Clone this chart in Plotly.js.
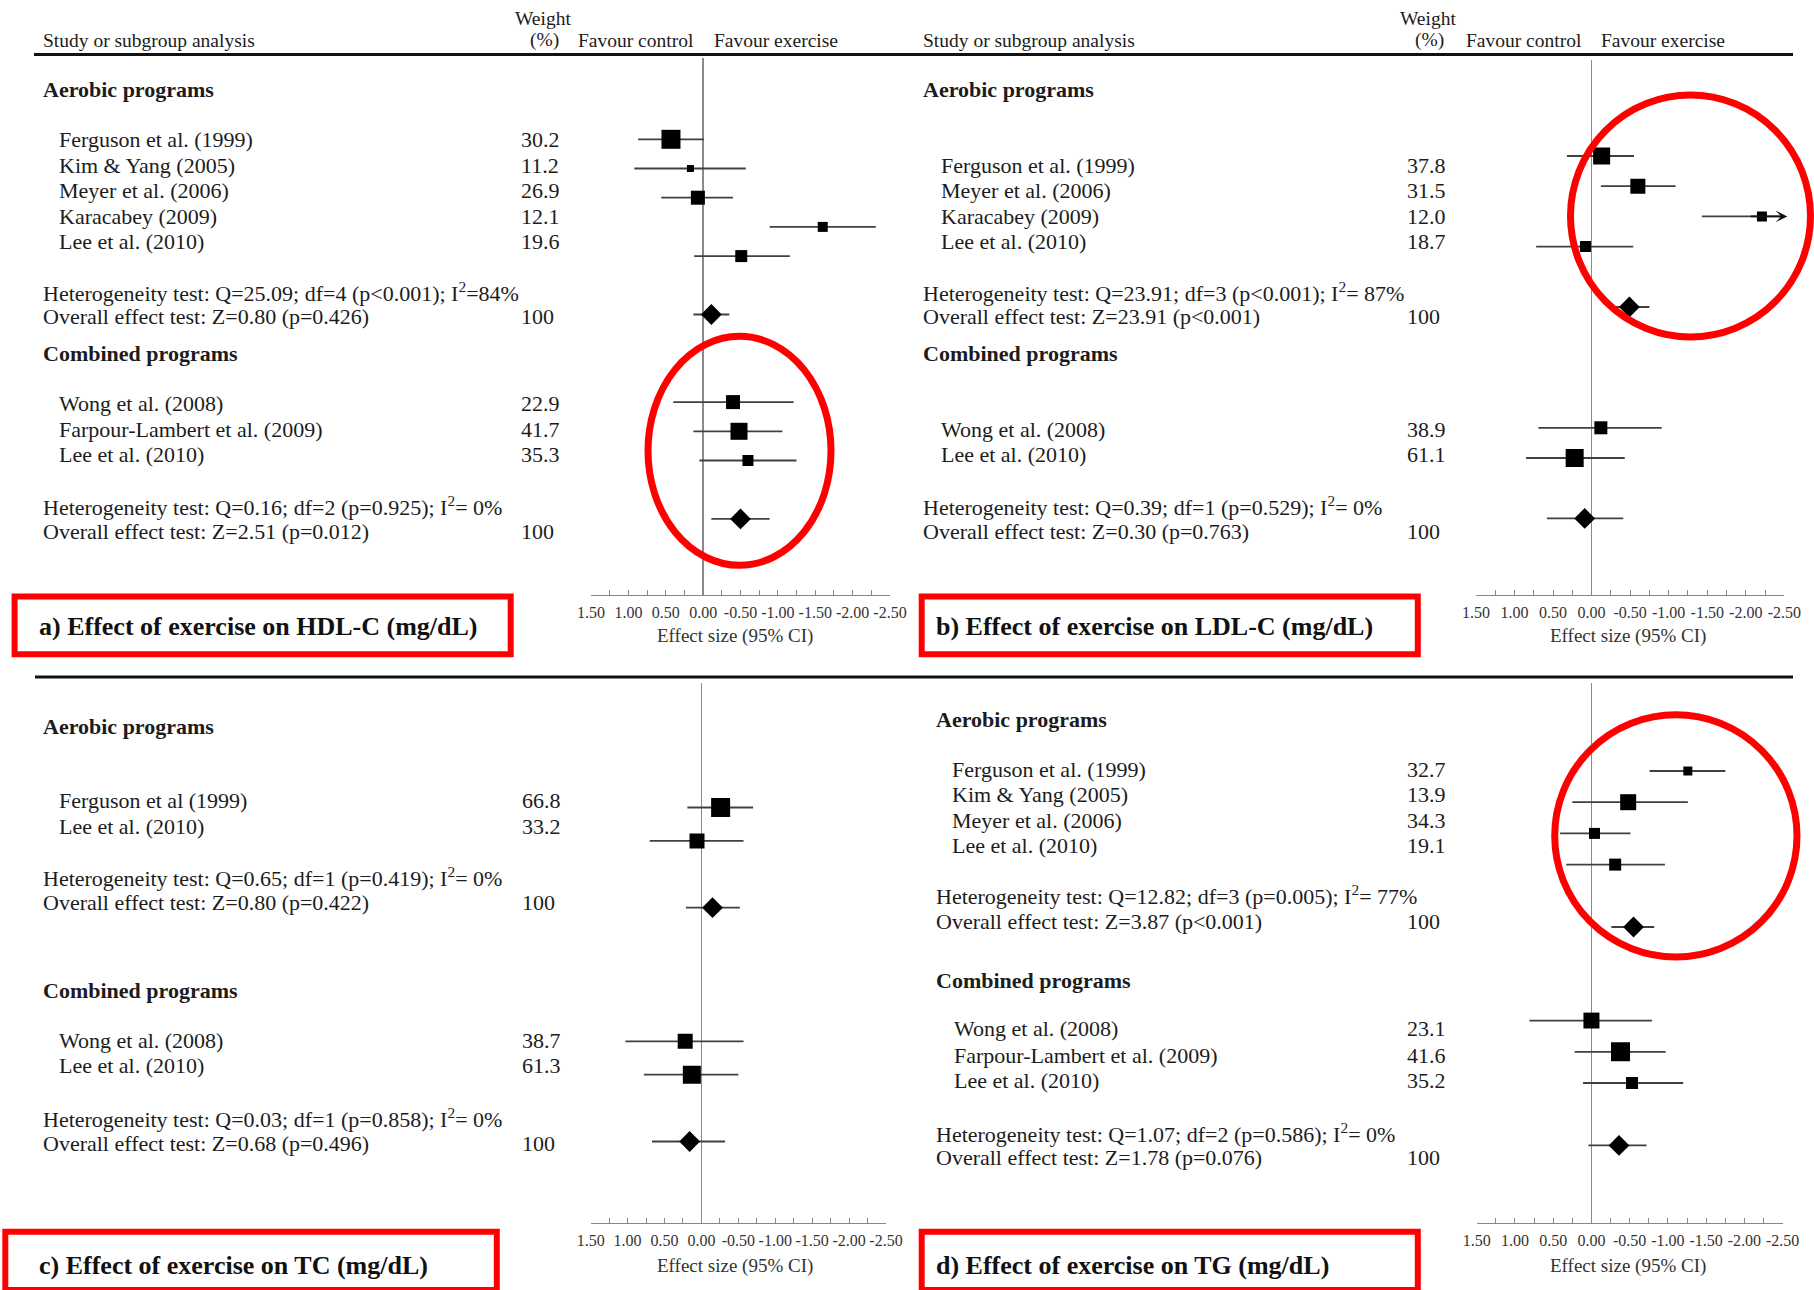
<!DOCTYPE html>
<html>
<head>
<meta charset="utf-8">
<script src="https://cdn.plot.ly/plotly-3.0.1.min.js"></script>
<style>html,body{margin:0;padding:0;background:#fff;}</style>
</head>
<body>
<div id="chart" style="width:1814px;height:1290px;"></div>
<script>
// ================= DATA =================
const tickValues = [1.5, 1.25, 1.0, 0.75, 0.5, 0.25, 0.0, -0.25, -0.5, -0.75, -1.0, -1.25, -1.5, -1.75, -2.0, -2.25, -2.5];
const tickLabels = ["1.50", "", "1.00", "", "0.50", "", "0.00", "", "-0.50", "", "-1.00", "", "-1.50", "", "-2.00", "", "-2.50"];
const axisTitleText = "Effect size (95% CI)";
const panelTitles = [
  "a) Effect of exercise on HDL-C (mg/dL)",
  "b) Effect of exercise on LDL-C (mg/dL)",
  "c) Effect of exercise on TC (mg/dL)",
  "d) Effect of exercise on TG (mg/dL)"
];
const groupNames = ["Aerobic programs", "Combined programs"];

// a) HDL-C
const hdlAerobicStudies = ["Ferguson et al. (1999)", "Kim & Yang (2005)", "Meyer et al. (2006)", "Karacabey (2009)", "Lee et al. (2010)"];
const hdlAerobicWeights = [30.2, 11.2, 26.9, 12.1, 19.6];
const hdlAerobicEffect = [0.43, 0.17, 0.07, -1.60, -0.51];
const hdlAerobicLower = [-0.01, -0.57, -0.40, -2.31, -1.16];
const hdlAerobicUpper = [0.87, 0.92, 0.56, -0.89, 0.12];
const hdlCombinedStudies = ["Wong et al. (2008)", "Farpour-Lambert et al. (2009)", "Lee et al. (2010)"];
const hdlCombinedWeights = [22.9, 41.7, 35.3];
const hdlCombinedEffect = [-0.40, -0.48, -0.60];
const hdlCombinedLower = [-1.21, -1.06, -1.25];
const hdlCombinedUpper = [0.40, 0.13, 0.05];
const hdlPooledEffect = [-0.11, -0.50];
const hdlPooledLower = [-0.35, -0.89];
const hdlPooledUpper = [0.13, -0.11];
const hdlHeterogeneity = ["Q=25.09; df=4 (p<0.001); I^2=84%", "Q=0.16; df=2 (p=0.925); I^2= 0%"];
const hdlOverall = ["Z=0.80 (p=0.426)", "Z=2.51 (p=0.012)"];

// b) LDL-C
const ldlAerobicStudies = ["Ferguson et al. (1999)", "Meyer et al. (2006)", "Karacabey (2009)", "Lee et al. (2010)"];
const ldlAerobicWeights = [37.8, 31.5, 12.0, 18.7];
const ldlAerobicEffect = [-0.13, -0.60, -2.21, 0.08];
const ldlAerobicLower = [-0.55, -1.09, -2.99, -0.54];
const ldlAerobicUpper = [0.32, -0.12, -1.43, 0.72];
const ldlCombinedStudies = ["Wong et al. (2008)", "Lee et al. (2010)"];
const ldlCombinedWeights = [38.9, 61.1];
const ldlCombinedEffect = [-0.12, 0.22];
const ldlCombinedLower = [-0.91, -0.43];
const ldlCombinedUpper = [0.69, 0.85];
const ldlPooledEffect = [-0.49, 0.09];
const ldlPooledLower = [-0.75, -0.41];
const ldlPooledUpper = [-0.23, 0.58];
const ldlHeterogeneity = ["Q=23.91; df=3 (p<0.001); I^2= 87%", "Q=0.39; df=1 (p=0.529); I^2= 0%"];
const ldlOverall = ["Z=23.91 (p<0.001)", "Z=0.30 (p=0.763)"];

// c) TC
const tcAerobicStudies = ["Ferguson et al (1999)", "Lee et al. (2010)"];
const tcAerobicWeights = [66.8, 33.2];
const tcAerobicEffect = [-0.26, 0.06];
const tcAerobicLower = [-0.70, -0.57];
const tcAerobicUpper = [0.19, 0.70];
const tcCombinedStudies = ["Wong et al. (2008)", "Lee et al. (2010)"];
const tcCombinedWeights = [38.7, 61.3];
const tcCombinedEffect = [0.22, 0.13];
const tcCombinedLower = [-0.57, -0.50];
const tcCombinedUpper = [1.03, 0.78];
const tcPooledEffect = [-0.15, 0.16];
const tcPooledLower = [-0.52, -0.32];
const tcPooledUpper = [0.21, 0.67];
const tcHeterogeneity = ["Q=0.65; df=1 (p=0.419); I^2= 0%", "Q=0.03; df=1 (p=0.858); I^2= 0%"];
const tcOverall = ["Z=0.80 (p=0.422)", "Z=0.68 (p=0.496)"];

// d) TG
const tgAerobicStudies = ["Ferguson et al. (1999)", "Kim & Yang (2005)", "Meyer et al. (2006)", "Lee et al. (2010)"];
const tgAerobicWeights = [32.7, 13.9, 34.3, 19.1];
const tgAerobicEffect = [-1.26, -0.48, -0.04, -0.31];
const tgAerobicLower = [-1.75, -1.26, -0.51, -0.96];
const tgAerobicUpper = [-0.76, 0.25, 0.41, 0.33];
const tgCombinedStudies = ["Wong et al. (2008)", "Farpour-Lambert et al. (2009)", "Lee et al. (2010)"];
const tgCombinedWeights = [23.1, 41.6, 35.2];
const tgCombinedEffect = [0.00, -0.38, -0.53];
const tgCombinedLower = [-0.79, -0.97, -1.20];
const tgCombinedUpper = [0.81, 0.22, 0.11];
const tgPooledEffect = [-0.55, -0.36];
const tgPooledLower = [-0.82, -0.72];
const tgPooledUpper = [-0.26, 0.04];
const tgHeterogeneity = ["Q=12.82; df=3 (p=0.005); I^2= 77%", "Q=1.07; df=2 (p=0.586); I^2= 0%"];
const tgOverall = ["Z=3.87 (p<0.001)", "Z=1.78 (p=0.076)"];

// ================= LAYOUT / STYLE =================
const W = 1814, H = 1290;
const FONT = '"Liberation Serif", "Times New Roman", Times, serif';
const INK = '#1c1c1c';

const panels = [
  { ax: '', xPx: [591, 890], yPx: [58, 595], row0: 139.3, pitch: 29.2,
    rowsA: [0, 1, 2, 3, 4], pooledA: 6, rowsC: [9, 10, 11], pooledC: 13,
    sizesA: [19, 7, 14, 10, 12], sizesC: [14, 17, 11],
    headX: 41.7, studyX: 57.9, studyXC: 57.9, weightX: 519.5,
    yA: 89.1, yStudiesA: [140, 165.5, 190.9, 216.4, 241.8], yHetA: 291.6, yOvA: 317,
    yC: 354, yStudiesC: [403.8, 429.2, 454.7], yHetC: 505.6, yOvC: 531.1,
    header: { studyX: 41.7, weightCX: 542.6, pctX: 528.7, favC: 577.3, favE: 712.7 },
    box: [14.6, 596.5, 510.7, 654.2], titleX: 38.2, titleY: 626, axisTitleX: 734.7, axisTitleY: 636.4,
    data: [hdlAerobicStudies, hdlAerobicWeights, hdlAerobicEffect, hdlAerobicLower, hdlAerobicUpper,
           hdlCombinedStudies, hdlCombinedWeights, hdlCombinedEffect, hdlCombinedLower, hdlCombinedUpper,
           hdlPooledEffect, hdlPooledLower, hdlPooledUpper, hdlHeterogeneity, hdlOverall] },
  { ax: '2', xPx: [1476, 1784.3], yPx: [60, 595], row0: 156, pitch: 30.2,
    rowsA: [0, 1, 2, 3], pooledA: 5, rowsC: [9, 10], pooledC: 12,
    sizesA: [17, 15, 10, 11], sizesC: [13, 18],
    headX: 922.1, studyX: 939.5, studyXC: 939.5, weightX: 1405.8,
    yA: 89.1, yStudiesA: [165.5, 190.9, 216.4, 241.8], yHetA: 291.6, yOvA: 317,
    yC: 354, yStudiesC: [429.2, 454.7], yHetC: 505.6, yOvC: 531.1,
    header: { studyX: 922.1, weightCX: 1427.7, pctX: 1413.9, favC: 1464.8, favE: 1600.1 },
    box: [921.7, 596.5, 1417.8, 654.2], titleX: 934.9, titleY: 626, axisTitleX: 1628, axisTitleY: 636.4,
    arrowRow: 2,
    data: [ldlAerobicStudies, ldlAerobicWeights, ldlAerobicEffect, ldlAerobicLower, ldlAerobicUpper,
           ldlCombinedStudies, ldlCombinedWeights, ldlCombinedEffect, ldlCombinedLower, ldlCombinedUpper,
           ldlPooledEffect, ldlPooledLower, ldlPooledUpper, ldlHeterogeneity, ldlOverall] },
  { ax: '3', xPx: [590.7, 886], yPx: [683, 1222.7], row0: 807.5, pitch: 33.4,
    rowsA: [0, 1], pooledA: 3, rowsC: [7, 8], pooledC: 10,
    sizesA: [19, 15], sizesC: [15, 18],
    headX: 41.7, studyX: 57.9, studyXC: 57.9, weightX: 520.6,
    yA: 726.6, yStudiesA: [800.6, 826.1], yHetA: 877, yOvA: 902.5,
    yC: 990.4, yStudiesC: [1040.1, 1065.6], yHetC: 1117.7, yOvC: 1143.1,
    header: null,
    box: [5.3, 1231.7, 496.8, 1290], titleX: 38.2, titleY: 1265.8, axisTitleX: 734.7, axisTitleY: 1266,
    data: [tcAerobicStudies, tcAerobicWeights, tcAerobicEffect, tcAerobicLower, tcAerobicUpper,
           tcCombinedStudies, tcCombinedWeights, tcCombinedEffect, tcCombinedLower, tcCombinedUpper,
           tcPooledEffect, tcPooledLower, tcPooledUpper, tcHeterogeneity, tcOverall] },
  { ax: '4', xPx: [1476.7, 1782.7], yPx: [683, 1222.7], row0: 771, pitch: 31.2,
    rowsA: [0, 1, 2, 3], pooledA: 5, rowsC: [8, 9, 10], pooledC: 12,
    sizesA: [9, 16, 11, 12], sizesC: [16, 19, 12],
    headX: 934.9, studyX: 951, studyXC: 953.4, weightX: 1405.8,
    yA: 719.7, yStudiesA: [769.4, 794.9, 820.3, 845.8], yHetA: 895.5, yOvA: 921,
    yC: 980, yStudiesC: [1028.6, 1055.2, 1080.6], yHetC: 1132.7, yOvC: 1157,
    header: null,
    box: [921.7, 1231.7, 1417.8, 1290], titleX: 934.9, titleY: 1265.8, axisTitleX: 1628, axisTitleY: 1266,
    data: [tgAerobicStudies, tgAerobicWeights, tgAerobicEffect, tgAerobicLower, tgAerobicUpper,
           tgCombinedStudies, tgCombinedWeights, tgCombinedEffect, tgCombinedLower, tgCombinedUpper,
           tgPooledEffect, tgPooledLower, tgPooledUpper, tgHeterogeneity, tgOverall] }
];

const ellipses = [
  [648, 336.3, 831, 565.3],
  [1570.5, 95, 1810.5, 337],
  [1554.7, 714.7, 1797, 957]
];

// ================= BUILD =================
function esc(s) {
  return s.replace(/&/g, '&amp;').replace(/</g, '&lt;').replace(/>/g, '&gt;').replace('I^2', 'I<sup>2</sup>');
}
function px2x(px) { return px / W; }
function py2y(py) { return 1 - py / H; }
function txt(px, py, text, size, opts) {
  opts = opts || {};
  return {
    xref: 'paper', yref: 'paper', x: px2x(px), y: py2y(py),
    xanchor: opts.anchor || 'left', yanchor: 'middle',
    text: text, showarrow: false, borderpad: 0,
    font: { family: FONT, size: size, color: opts.color || INK, weight: opts.bold ? 'bold' : 'normal' }
  };
}

const traces = [];
const annotations = [];
const shapes = [];
const layout = {
  width: W, height: H,
  margin: { l: 0, r: 0, t: 0, b: 0 },
  paper_bgcolor: '#ffffff', plot_bgcolor: 'rgba(0,0,0,0)',
  showlegend: false,
  font: { family: FONT, color: INK },
  annotations: annotations,
  shapes: shapes
};

const STUDY_SIZE = 22, HEAD_SIZE = 22, SMALL = 19.5;

panels.forEach(function (p) {
  const xa = 'x' + p.ax, ya = 'y' + p.ax;
  const xKey = 'xaxis' + p.ax, yKey = 'yaxis' + p.ax;
  const d = p.data;
  const [sA, wA, eA, loA, hiA, sC, wC, eC, loC, hiC, pE, pLo, pHi, het, ov] = d;

  layout[xKey] = {
    domain: [p.xPx[0] / W, p.xPx[1] / W],
    anchor: ya,
    range: [tickValues[0], tickValues[tickValues.length - 1]],
    tickmode: 'array', tickvals: tickValues, ticktext: tickLabels,
    ticks: 'inside', ticklen: 5, tickwidth: 1, tickcolor: '#888',
    showline: true, linecolor: '#888', linewidth: 1.2,
    showgrid: false,
    zeroline: true, zerolinecolor: '#8a8a8a', zerolinewidth: 1.6,
    tickfont: { family: FONT, size: 16, color: '#333' },
    ticklabelstandoff: 3,
    fixedrange: true
  };
  layout[yKey] = {
    domain: [py2y(p.yPx[1]), py2y(p.yPx[0])],
    anchor: xa,
    range: [(p.yPx[1] - p.row0) / p.pitch, (p.yPx[0] - p.row0) / p.pitch],
    visible: false, showgrid: false, zeroline: false, fixedrange: true
  };

  const errStyle = { type: 'data', symmetric: false, color: '#404040', thickness: 1.8, width: 0 };
  // study squares
  [[eA, loA, hiA, p.rowsA, p.sizesA], [eC, loC, hiC, p.rowsC, p.sizesC]].forEach(function (g) {
    const [e, lo, hi, rows, sizes] = g;
    traces.push({
      type: 'scatter', mode: 'markers', xaxis: xa, yaxis: ya,
      x: e, y: rows,
      marker: { symbol: 'square', color: '#000', opacity: 1, size: sizes, line: { width: 0 } },
      error_x: Object.assign({}, errStyle, {
        array: hi.map(function (v, i) { return v - e[i]; }),
        arrayminus: lo.map(function (v, i) { return e[i] - v; })
      }),
      hoverinfo: 'skip', cliponaxis: true
    });
  });
  // pooled diamonds
  traces.push({
    type: 'scatter', mode: 'markers', xaxis: xa, yaxis: ya,
    x: pE, y: [p.pooledA, p.pooledC],
    marker: { symbol: 'diamond', color: '#000', opacity: 1, size: 16, line: { width: 0 } },
    error_x: Object.assign({}, errStyle, {
      array: pHi.map(function (v, i) { return v - pE[i]; }),
      arrayminus: pLo.map(function (v, i) { return pE[i] - v; })
    }),
    hoverinfo: 'skip'
  });

  // arrow for CI running past the axis
  if (p.arrowRow !== undefined) {
    annotations.push({
      xref: 'paper', yref: ya, x: (p.xPx[1] + 3) / W, y: p.rowsA[p.arrowRow],
      ax: -38, ay: 0, showarrow: true, arrowhead: 3, arrowsize: 1.1, arrowwidth: 1.8,
      arrowcolor: '#111', text: ''
    });
  }

  // header row
  if (p.header) {
    const h = p.header;
    annotations.push(txt(h.studyX, 40.5, 'Study or subgroup analysis', SMALL));
    annotations.push(txt(h.weightCX, 18.5, 'Weight', SMALL, { anchor: 'center' }));
    annotations.push(txt(h.pctX, 40.5, '(%)', SMALL));
    annotations.push(txt(h.favC, 40.5, 'Favour control', SMALL));
    annotations.push(txt(h.favE, 40.5, 'Favour exercise', SMALL));
  }

  // group A text
  annotations.push(txt(p.headX, p.yA, groupNames[0], HEAD_SIZE, { bold: true }));
  sA.forEach(function (s, i) {
    annotations.push(txt(p.studyX, p.yStudiesA[i], esc(s), STUDY_SIZE));
    annotations.push(txt(p.weightX, p.yStudiesA[i], wA[i].toFixed(1), STUDY_SIZE));
  });
  annotations.push(txt(p.headX, p.yHetA, esc('Heterogeneity test: ' + het[0]), STUDY_SIZE));
  annotations.push(txt(p.headX, p.yOvA, esc('Overall effect test: ' + ov[0]), STUDY_SIZE));
  annotations.push(txt(p.weightX, p.yOvA, '100', STUDY_SIZE));

  // group C text
  annotations.push(txt(p.headX, p.yC, groupNames[1], HEAD_SIZE, { bold: true }));
  sC.forEach(function (s, i) {
    annotations.push(txt(p.studyXC, p.yStudiesC[i], esc(s), STUDY_SIZE));
    annotations.push(txt(p.weightX, p.yStudiesC[i], wC[i].toFixed(1), STUDY_SIZE));
  });
  annotations.push(txt(p.headX, p.yHetC, esc('Heterogeneity test: ' + het[1]), STUDY_SIZE));
  annotations.push(txt(p.headX, p.yOvC, esc('Overall effect test: ' + ov[1]), STUDY_SIZE));
  annotations.push(txt(p.weightX, p.yOvC, '100', STUDY_SIZE));

  // axis title
  annotations.push(txt(p.axisTitleX, p.axisTitleY, axisTitleText, 19, { anchor: 'center', color: '#333' }));

  // panel label box
  shapes.push({ type: 'rect', xref: 'paper', yref: 'paper',
    x0: px2x(p.box[0]), x1: px2x(p.box[2]), y0: py2y(p.box[3]), y1: py2y(p.box[1]),
    line: { color: '#ff0000', width: 6 }, fillcolor: 'rgba(0,0,0,0)' });
});

panelTitles.forEach(function (t, i) {
  const p = panels[i];
  annotations.push(txt(p.titleX, p.titleY, t, 26, { bold: true, color: '#111' }));
});

// header rule and middle separator
shapes.push({ type: 'line', xref: 'paper', yref: 'paper', x0: px2x(34), x1: px2x(1793), y0: py2y(54.5), y1: py2y(54.5), line: { color: '#111', width: 3 } });
shapes.push({ type: 'line', xref: 'paper', yref: 'paper', x0: px2x(35), x1: px2x(1793), y0: py2y(677), y1: py2y(677), line: { color: '#111', width: 3 } });

// red highlight ellipses
ellipses.forEach(function (e) {
  shapes.push({ type: 'circle', xref: 'paper', yref: 'paper',
    x0: px2x(e[0]), x1: px2x(e[2]), y0: py2y(e[3]), y1: py2y(e[1]),
    line: { color: '#ff0000', width: 7 }, fillcolor: 'rgba(0,0,0,0)' });
});

Plotly.newPlot('chart', traces, layout, { staticPlot: true, displayModeBar: false });
</script>
</body>
</html>
